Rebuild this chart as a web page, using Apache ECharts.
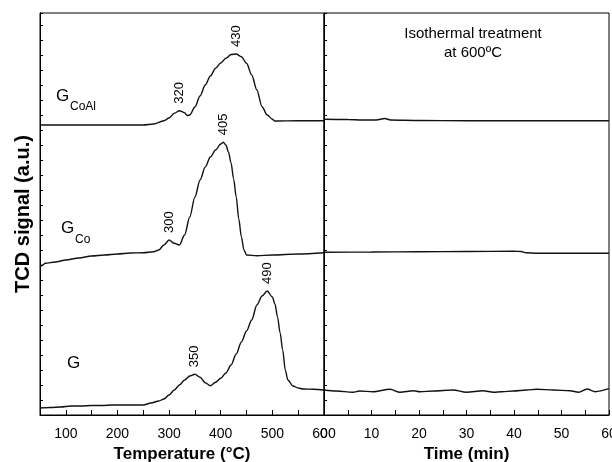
<!DOCTYPE html>
<html>
<head>
<meta charset="utf-8">
<script src="https://cdn.jsdelivr.net/npm/echarts@6/dist/echarts.min.js"></script>
<style>
  html, body { margin: 0; padding: 0; background: #fff; }
  #chart { width: 612px; height: 462px; }
</style>
</head>
<body>
<div id="chart"></div>
<script>
// TCD signal (arbitrary units, curves offset)
// temperature ramp, [°C, signal]
const gCoAlRamp = [[50,290],[150,290],[250,290],[270,291],[290,294.3],[300,297],[310,301.7],[320,304.3],[330,302.3],[335,299.5],[340,300],[350,308],[360,319],[370,330],[380,339],[390,346.7],[400,352],[410,356.7],[420,360.5],[430,361],[440,358.3],[450,351.7],[460,340],[470,325],[480,308.3],[490,300],[500,295.7],[505,294],[550,294.3],[600,294.3]];
const gCoRamp = [[50,148],[55,150],[60,151.7],[80,153],[100,155],[125,157],[150,159],[175,160],[200,161],[225,162],[250,162.3],[270,163.3],[280,165],[290,170],[300,175],[310,171.7],[320,170],[330,180],[340,198],[350,218],[360,235],[370,248],[380,258],[390,265],[400,271],[405,272.7],[410,270],[415,263],[420,252],[425,236],[430,218],[435,196],[440,178],[445,165],[450,160],[470,159.3],[500,160],[550,161],[600,162.3]];
const gRamp = [[50,7],[70,7.5],[90,8],[110,9],[130,9],[150,9.5],[170,9.5],[190,10],[210,10],[230,10],[250,10],[265,12],[280,14],[290,16],[300,20],[310,25],[320,30],[330,35],[340,39],[350,40.7],[360,37.7],[370,32.3],[380,29.3],[390,32.7],[400,36.7],[410,42],[420,50],[430,61],[440,73],[450,84],[460,95],[470,110],[480,119],[490,124],[500,118],[505,111],[510,98],[515,82],[520,65],[525,45],[530,35],[540,29],[550,27],[560,26],[580,25.7],[600,25]];

// isothermal step at 600 °C, [min, signal]
const gCoAlIso = [[0,295.7],[5,295.5],[8,295],[11,295],[12.8,296.5],[14,295],[20,294.5],[30,294.3],[45,294.3],[60,294.3]];
const gCoIso = [[0,162.7],[10,163],[20,163.3],[30,163.5],[40,163.7],[41.5,163.5],[42.5,162.3],[45,161.7],[52,161.7],[60,161.7]];
const gIso = [[0,25],[2.6,24],[6.1,22.7],[7.5,24],[10.3,23.3],[13.9,25.7],[16,22.7],[18.8,24.3],[20.2,23.3],[23,24],[27.2,25],[30,22.7],[33.5,24.3],[35.7,22.7],[37.4,23.3],[39.9,24],[42.7,25],[44.8,25.7],[48.3,25],[51.8,24.3],[53.6,22.7],[55.4,26],[57.1,23.3],[60,26.3]];

// peak annotations
const peakTemps = [320, 430, 300, 405, 350, 490];
const peakSignals = [304.3, 361, 175, 272.7, 40.7, 124];

const font = 'Liberation Sans, Arial, sans-serif';
const black = '#000';

const chart = echarts.init(document.getElementById('chart'));

function xAxisBase(grid, min, max, step, labelEvery, name) {
  return {
    gridIndex: grid, type: 'value', min: min, max: max, interval: step,
    name: name, nameLocation: 'middle', nameGap: 30,
    nameTextStyle: { fontSize: 17, fontWeight: 'bold', color: black, fontFamily: font },
    axisLine: { lineStyle: { color: black, width: 1 } },
    axisTick: { inside: true, length: 5, lineStyle: { color: black } },
    axisLabel: {
      formatter: v => (v % labelEvery === 0 ? String(v) : ''),
      fontSize: 14, color: black, fontFamily: font, margin: 12,
      showMinLabel: true, showMaxLabel: true, hideOverlap: false
    },
    splitLine: { show: false }
  };
}

function yAxisBase(grid, name) {
  return {
    gridIndex: grid, type: 'value', min: 0, max: 402, interval: 15,
    name: name, nameLocation: 'middle', nameGap: 7,
    nameTextStyle: { fontSize: 20, fontWeight: 'bold', color: black, fontFamily: font },
    axisLine: { show: true, lineStyle: { color: black, width: 1 } },
    axisTick: { show: true, inside: true, length: 3, lineStyle: { color: black } },
    axisLabel: { show: false },
    splitLine: { show: false }
  };
}

function curve(data, axisIdx) {
  return {
    type: 'line', data: data, xAxisIndex: axisIdx, yAxisIndex: axisIdx,
    showSymbol: false, smooth: 0.3, smoothMonotone: 'x',
    lineStyle: { color: '#111', width: 1.4 }, silent: true
  };
}

chart.setOption({
  animation: false,
  grid: [
    { left: 40, top: 13, width: 284, height: 402, show: true, borderColor: black, borderWidth: 1, outerBoundsMode: 'none', containLabel: false },
    { left: 324, top: 13, width: 285, height: 402, show: true, borderColor: black, borderWidth: 1, outerBoundsMode: 'none', containLabel: false }
  ],
  xAxis: [
    xAxisBase(0, 50, 600, 50, 100, 'Temperature (°C)'),
    xAxisBase(1, 0, 60, 5, 10, 'Time (min)')
  ],
  yAxis: [
    yAxisBase(0, 'TCD signal (a.u.)'),
    yAxisBase(1, '')
  ],
  series: [
    curve(gCoAlRamp, 0), curve(gCoRamp, 0), curve(gRamp, 0),
    curve(gCoAlIso, 1), curve(gCoIso, 1), curve(gIso, 1)
  ]
});

// text annotations
const graphics = [];
peakTemps.forEach((t, i) => {
  const p = chart.convertToPixel({ gridIndex: 0 }, [t, peakSignals[i]]);
  graphics.push({
    type: 'text', x: p[0], y: p[1] - 7, rotation: Math.PI / 2,
    style: { text: String(t), fontSize: 13, fontFamily: font, fill: black, align: 'left', verticalAlign: 'middle' }
  });
});

function sampleLabel(x, y, sub, subDx, subDy) {
  graphics.push({ type: 'text', x: x, y: y,
    style: { text: 'G', fontSize: 17, fontFamily: font, fill: black, align: 'left', verticalAlign: 'middle' } });
  if (sub) {
    graphics.push({ type: 'text', x: x + subDx, y: y + subDy,
      style: { text: sub, fontSize: 12, fontFamily: font, fill: black, align: 'left', verticalAlign: 'middle' } });
  }
}
sampleLabel(56, 96, 'CoAl', 14, 11);
sampleLabel(61, 228, 'Co', 14, 11.5);
sampleLabel(67, 363, '', 0, 0);

graphics.push({ type: 'text', x: 473, y: 34,
  style: { text: 'Isothermal treatment', fontSize: 15, fontFamily: font, fill: black, align: 'center', verticalAlign: 'middle' } });
graphics.push({ type: 'text', x: 473, y: 53,
  style: { text: 'at 600ºC', fontSize: 15, fontFamily: font, fill: black, align: 'center', verticalAlign: 'middle' } });

chart.setOption({ graphic: graphics });
</script>
</body>
</html>
